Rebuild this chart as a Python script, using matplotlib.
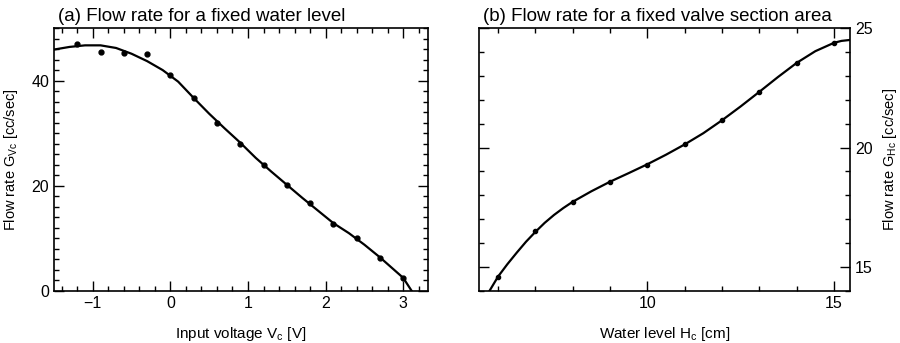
import matplotlib
matplotlib.use("Agg")
import matplotlib.pyplot as plt
from matplotlib.ticker import MultipleLocator, FuncFormatter

plt.rcParams['font.family'] = ['Liberation Sans', 'DejaVu Sans']
plt.rcParams['mathtext.fontset'] = 'custom'
plt.rcParams['mathtext.rm'] = 'Liberation Sans'

# (a) measured points
va_pts_x = [-1.2, -0.9, -0.6, -0.3, 0.0, 0.3, 0.6, 0.9, 1.2, 1.5, 1.8, 2.1, 2.4, 2.7, 3.0]
va_pts_y = [46.9, 45.4, 45.3, 45.0, 41.1, 36.6, 31.9, 28.0, 23.9, 20.1, 16.7, 12.8, 10.1, 6.2, 2.4]
# (a) fitted curve
va_cur_x = [-1.5, -1.3, -1.1, -0.9, -0.7, -0.5, -0.3, -0.1, 0.1, 0.3, 0.5, 0.7, 0.9,
            1.1, 1.3, 1.5, 1.7, 1.9, 2.1, 2.3, 2.5, 2.7, 2.8, 2.9, 3.0, 3.11]
va_cur_y = [45.9, 46.4, 46.7, 46.7, 46.2, 45.1, 43.7, 42.0, 39.8, 36.7, 33.7, 30.9, 28.2,
            25.3, 22.7, 20.2, 17.7, 15.3, 12.9, 11.0, 8.8, 6.4, 5.1, 3.8, 2.5, 0.0]

# (b) measured points
hb_pts_x = [6, 7, 8, 9, 10, 11, 12, 13, 14, 15]
hb_pts_y = [14.6, 16.5, 17.73, 18.57, 19.28, 20.13, 21.14, 22.32, 23.54, 24.38]
# (b) fitted curve
hb_cur_x = [5.77, 6.0, 6.25, 6.5, 6.75, 7.0, 7.25, 7.5, 7.75, 8.0, 8.5, 9.0, 9.5, 10.0, 10.5, 11.0,
            11.5, 12.0, 12.5, 13.0, 13.5, 14.0, 14.5, 15.0, 15.2, 15.43]
hb_cur_y = [14.0, 14.6, 15.12, 15.6, 16.06, 16.47, 16.85, 17.18, 17.47, 17.73, 18.17, 18.57, 18.93, 19.3,
            19.7, 20.13, 20.6, 21.14, 21.72, 22.33, 22.95, 23.54, 24.03, 24.38, 24.46, 24.5]

fig = plt.figure(figsize=(9, 3.43), dpi=100)
axa = fig.add_axes([0.06, 0.1516, 0.4156, 0.7668])
axb = fig.add_axes([0.5326, 0.1516, 0.4119, 0.7668])

for ax in (axa, axb):
    ax.tick_params(which='both', direction='in', top=True, right=True, left=True, bottom=True,
                   width=1.0, labelsize=11.5)
    ax.tick_params(which='major', length=7)
    ax.tick_params(which='minor', length=3.5)
    for s in ax.spines.values():
        s.set_linewidth(1.2)

# (a)
axa.plot(va_cur_x, va_cur_y, color='black', lw=1.6)
axa.plot(va_pts_x, va_pts_y, 'o', color='black', ms=3.5)
axa.set_xlim(-1.5, 3.32)
axa.set_ylim(0, 50)
axa.xaxis.set_major_locator(MultipleLocator(1))
axa.xaxis.set_minor_locator(MultipleLocator(0.2))
axa.yaxis.set_major_locator(MultipleLocator(20))
axa.yaxis.set_minor_locator(MultipleLocator(2))
axa.set_xlabel(r'Input voltage V$_\mathrm{c}$ [V]', fontsize=11, labelpad=10)
axa.set_ylabel(r'Flow rate G$_\mathrm{Vc}$ [cc/sec]', fontsize=10.5, labelpad=8)
axa.set_title('(a) Flow rate for a fixed water level', fontsize=13.5, loc='left', x=0.01, pad=5)
axa.xaxis.set_major_formatter(FuncFormatter(
    lambda v, p: ('\u2212' if v < 0 else '') + '%d' % abs(round(v))))

# (b)
axb.plot(hb_cur_x, hb_cur_y, color='black', lw=1.6)
axb.plot(hb_pts_x, hb_pts_y, 'o', color='black', ms=3.0)
axb.set_xlim(5.5, 15.43)
axb.set_ylim(14, 25)
axb.xaxis.set_major_locator(MultipleLocator(5))
axb.xaxis.set_minor_locator(MultipleLocator(1))
axb.yaxis.set_major_locator(MultipleLocator(5))
axb.yaxis.set_minor_locator(MultipleLocator(1))
axb.tick_params(axis='y', labelleft=False, labelright=True)
axb.yaxis.set_label_position('right')
axb.set_xlabel(r'Water level H$_\mathrm{c}$ [cm]', fontsize=11, labelpad=10)
axb.set_ylabel(r'Flow rate G$_\mathrm{Hc}$ [cc/sec]', fontsize=10.5, labelpad=6)
axb.set_title('(b) Flow rate for a fixed valve section area', fontsize=13.5, loc='left', x=0.01, pad=5)

fig.savefig('out.png', dpi=100)
